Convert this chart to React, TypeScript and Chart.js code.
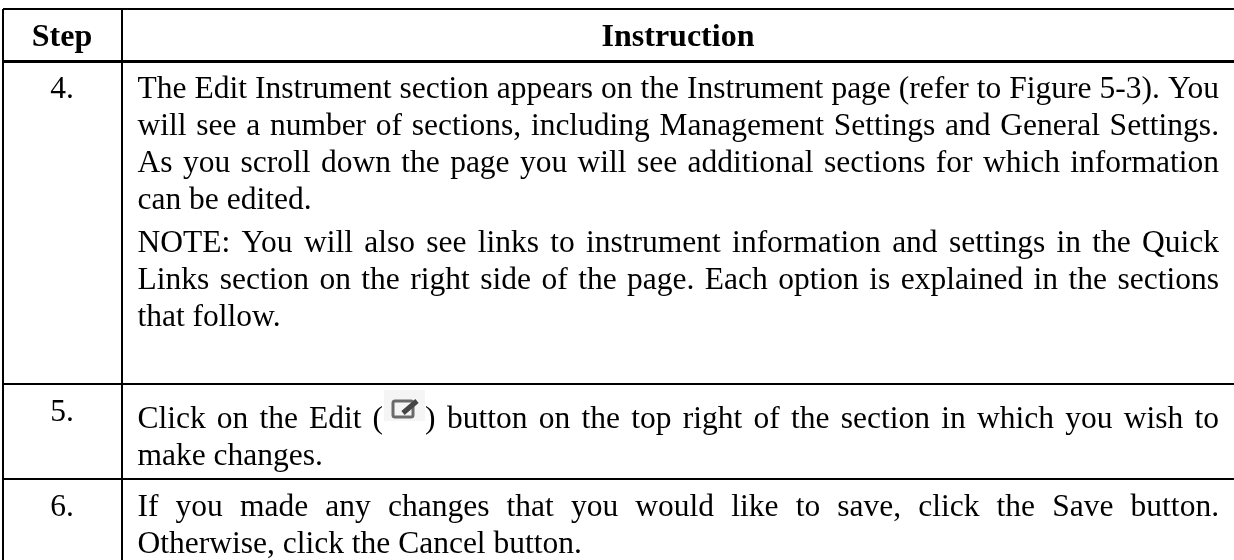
import React, { useEffect, useRef } from "react";
import { Chart, registerables } from "chart.js";

Chart.register(...registerables);

const headers = ["Step", "Instruction"];
const steps = ["4.", "5.", "6."];
const step4Lines = [
  "The Edit Instrument section appears on the Instrument page (refer to Figure 5-3). You",
  "will see a number of sections, including Management Settings and General Settings.",
  "As you scroll down the page you will see additional sections for which information",
  "can be edited.",
];
const step4Note = [
  "NOTE: You will also see links to instrument information and settings in the Quick",
  "Links section on the right side of the page. Each option is explained in the sections",
  "that follow.",
];
const step5Before = "Click on the Edit (";
const step5Paren = ")";
const step5After = "button on the top right of the section in which you wish to";
const step5Last = "make changes.";
const step6Lines = [
  "If you made any changes that you would like to save, click the Save button.",
  "Otherwise, click the Cancel button.",
];

const columnRules = [3, 122];
const rowRules = [9, 61, 384, 479];
const W = 1234, H = 560;
const FONT = '"Liberation Serif", "Times New Roman", serif';
const SIZE = 31.5;
const LEAD = 37;
const TL = 137.5, TR = 1219;
const BASE_HEAD = 46, BASE_4 = 97.5, BASE_NOTE = 251.5, BASE_5 = 428, BASE_5_NUM = 421, BASE_6 = 515.5;

function justified(ctx: CanvasRenderingContext2D, s: string, x0: number, x1: number, y: number) {
  const words = s.split(" ");
  const sum = words.reduce((a, w) => a + ctx.measureText(w).width, 0);
  const gap = (x1 - x0 - sum) / (words.length - 1);
  let x = x0;
  for (const w of words) {
    ctx.fillText(w, x, y);
    x += ctx.measureText(w).width + gap;
  }
}

const tablePlugin = {
  id: "tableText",
  afterDraw(chart: any) {
    const ctx: CanvasRenderingContext2D = chart.ctx;
    ctx.save();
    ctx.fillStyle = "#000";
    ctx.textBaseline = "alphabetic";
    ctx.textAlign = "center";
    ctx.font = `bold 32px ${FONT}`;
    ctx.fillText(headers[0], 62, BASE_HEAD);
    ctx.fillText(headers[1], 678, BASE_HEAD);
    ctx.font = `${SIZE}px ${FONT}`;
    ctx.fillText(steps[0], 62, BASE_4);
    ctx.fillText(steps[1], 62, BASE_5_NUM);
    ctx.fillText(steps[2], 62, BASE_6);
    ctx.textAlign = "left";
    step4Lines.forEach((l, i) => {
      const y = BASE_4 + i * LEAD;
      if (i < 3) justified(ctx, l, TL, TR, y);
      else ctx.fillText(l, TL, y);
    });
    step4Note.forEach((l, i) => {
      const y = BASE_NOTE + i * LEAD;
      if (i < 2) justified(ctx, l, TL, TR, y);
      else ctx.fillText(l, TL, y);
    });
    justified(ctx, step5Before, TL, 383, BASE_5);
    // inline edit icon
    ctx.fillStyle = "#f5f5f5";
    ctx.fillRect(384, 390, 41, 31);
    ctx.strokeStyle = "#6a6a6a";
    ctx.lineWidth = 3;
    ctx.beginPath();
    ctx.roundRect(393, 401, 20, 16, 2);
    ctx.stroke();
    ctx.strokeStyle = "#444";
    ctx.lineWidth = 5;
    ctx.beginPath();
    ctx.moveTo(403, 413);
    ctx.lineTo(417, 401);
    ctx.stroke();
    ctx.fillStyle = "#000";
    ctx.fillText(step5Paren, 425, BASE_5);
    justified(ctx, step5After, 447, TR, BASE_5);
    ctx.fillText(step5Last, TL, BASE_5 + LEAD);
    justified(ctx, step6Lines[0], TL, TR, BASE_6);
    ctx.fillText(step6Lines[1], TL, BASE_6 + LEAD);
    ctx.restore();
  },
};

export default function App() {
  const ref = useRef<HTMLCanvasElement>(null);
  useEffect(() => {
    document.body.style.margin = "0";
    document.body.style.background = "#fff";
    const chart = new Chart(ref.current!, {
      type: "scatter",
      data: { datasets: [{ data: [], pointRadius: 0 }] },
      plugins: [tablePlugin],
      options: {
        animation: false,
        responsive: false,
        events: [],
        layout: { padding: { top: rowRules[0], left: columnRules[0], right: 0, bottom: 0 } },
        plugins: { legend: { display: false }, tooltip: { enabled: false } },
        scales: {
          x: {
            type: "linear",
            min: columnRules[0],
            max: W,
            position: "top",
            border: { display: false },
            ticks: { display: false },
            afterFit: (s: any) => { s.height = 0; },
            afterBuildTicks: (s: any) => { s.ticks = columnRules.map((value) => ({ value })); },
            grid: { color: "#000", lineWidth: 2, drawTicks: false },
          },
          y: {
            type: "linear",
            min: rowRules[0],
            max: H,
            reverse: true,
            border: { display: false },
            ticks: { display: false },
            afterFit: (s: any) => { s.width = 0; },
            afterBuildTicks: (s: any) => { s.ticks = rowRules.map((value) => ({ value })); },
            grid: {
              color: "#000",
              drawTicks: false,
              lineWidth: (c: any) => (c.index === 1 ? 3 : 2),
            },
          },
        },
      } as any,
    });
    return () => chart.destroy();
  }, []);
  return <canvas ref={ref} width={W} height={H} style={{ display: "block" }} />;
}
